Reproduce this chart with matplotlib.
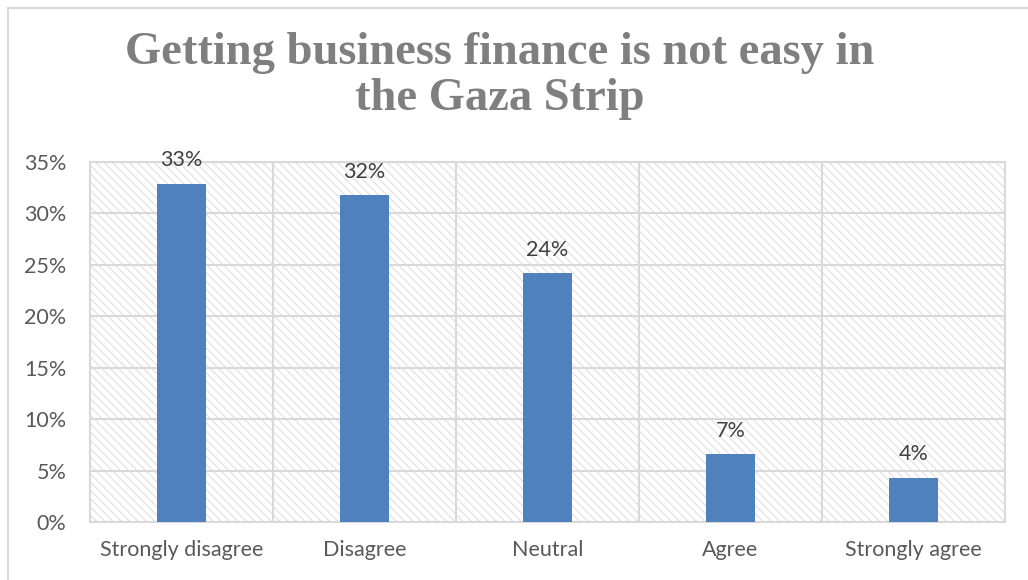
import matplotlib.pyplot as plt
import matplotlib.ticker as ticker
from matplotlib.patches import Rectangle
from matplotlib.lines import Line2D

# survey responses, share of respondents
categories = ["Strongly disagree", "Disagree", "Neutral", "Agree", "Strongly agree"]
shares = [0.329, 0.318, 0.242, 0.066, 0.043]

TITLE = "Getting business finance is not easy in\nthe Gaza Strip"
BAR_COLOR = "#4f81bd"
GRID_COLOR = "#d9d9d9"
TEXT_COLOR = "#595959"

plt.rcParams["hatch.linewidth"] = 0.7

W, H = 1028, 580
fig = plt.figure(figsize=(W / 100, H / 100), dpi=100)
ax = fig.add_axes([90 / W, (H - 522) / H, (1005 - 90) / W, (522 - 162) / H])

# hatched plot-area background
ax.add_patch(Rectangle((0, 0), 1, 1, transform=ax.transAxes, facecolor="white",
                       edgecolor="#dcdcdc", hatch="\\\\\\\\", linewidth=0, zorder=0))

x = range(len(categories))
bars = ax.bar(x, shares, width=0.27, color=BAR_COLOR, zorder=3)
for b, v in zip(bars, shares):
    ax.text(b.get_x() + b.get_width() / 2, v + 0.013, f"{v:.0%}",
            ha="center", va="bottom", fontsize=15.5, color="#404040",
            family="Lato", zorder=4)

ax.set_xlim(-0.5, len(categories) - 0.5)
ax.set_ylim(0, 0.35)
ax.yaxis.set_major_locator(ticker.MultipleLocator(0.05))
ax.yaxis.set_major_formatter(ticker.PercentFormatter(1.0, decimals=0))
ax.set_xticks(list(x))
ax.set_xticklabels(categories)
ax.set_xticks([i + 0.5 for i in range(len(categories) - 1)], minor=True)

ax.grid(True, axis="y", which="major", color=GRID_COLOR, linewidth=1.5, zorder=1)
ax.grid(True, axis="x", which="minor", color=GRID_COLOR, linewidth=1.5, zorder=1)
ax.grid(False, axis="x", which="major")
ax.set_axisbelow(True)
for s in ax.spines.values():
    s.set_color(GRID_COLOR)
    s.set_linewidth(1.5)

ax.tick_params(axis="both", which="both", length=0, labelsize=15.5,
               labelcolor=TEXT_COLOR)
ax.tick_params(axis="x", pad=13)
ax.tick_params(axis="y", pad=17)
for lbl in ax.get_xticklabels() + ax.get_yticklabels():
    lbl.set_family("Lato")

fig.text(500 / W, 1 - 76 / H, TITLE, ha="center", va="center", fontsize=33.5,
         fontweight="bold", family="Liberation Serif", color="#7f7f7f",
         linespacing=1.13)

# chart frame (top and left edges)
fig.add_artist(Line2D([8 / W, 1], [1 - 8 / H, 1 - 8 / H], transform=fig.transFigure,
                      color=GRID_COLOR, linewidth=1.5))
fig.add_artist(Line2D([8 / W, 8 / W], [0, 1 - 8 / H], transform=fig.transFigure,
                      color=GRID_COLOR, linewidth=1.5))

fig.savefig("out.png", dpi=100)
